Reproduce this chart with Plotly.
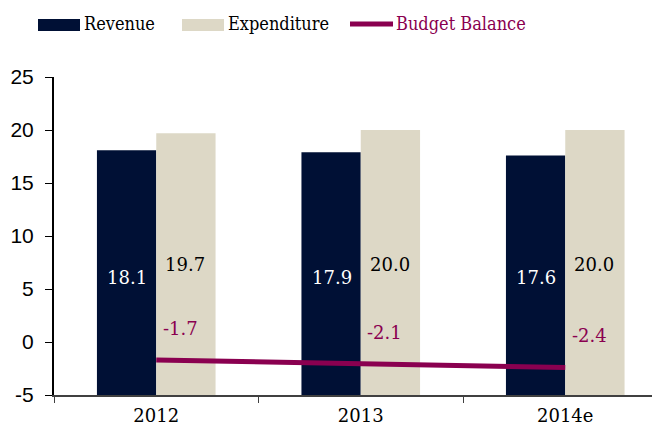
import plotly.graph_objects as go

categories = ["2012", "2013", "2014e"]
revenue = [18.1, 17.9, 17.6]
expenditure = [19.7, 20.0, 20.0]
balance = [-1.7, -2.1, -2.4]
y_ticks = [-5, 0, 5, 10, 15, 20, 25]
y_tick_labels = ["-5", "0", "5", "10", "15", "20", "25"]
y_min, y_max = -5, 25

NAVY = "#001035"
BEIGE = "#DDD8C6"
MAROON = "#8A0050"
SERIF = "DejaVu Serif"
COND = "DejaVu Serif Condensed, DejaVu Serif"

# page body has an 8px offset; compensate in margins
OFF = 8
L, T, R, B = 54 - OFF, 77 - OFF, OFF, 433 - 395 + OFF
PW, PH = 660 - L - R, 433 - T - B

fig = go.Figure()
# bars rise from the bottom of the axis (-5)
fig.add_trace(go.Bar(x=categories, y=[v - y_min for v in revenue], base=y_min, name="Revenue",
                     marker_color=NAVY, marker_line_width=0, showlegend=False))
fig.add_trace(go.Bar(x=categories, y=[v - y_min for v in expenditure], base=y_min, name="Expenditure",
                     marker_color=BEIGE, marker_line_width=0, showlegend=False))
fig.add_trace(go.Scatter(x=categories, y=balance, name="Budget Balance", mode="lines",
                         line=dict(color=MAROON, width=5), showlegend=False))

ann = []
for i, (r, e, b) in enumerate(zip(revenue, expenditure, balance)):
    ann.append(dict(x=i, y=6.1, text=f"{r:.1f}", showarrow=False, xshift=-29,
                    font=dict(family=SERIF, size=18, color="white")))
    ann.append(dict(x=i, y=7.3, text=f"{e:.1f}", showarrow=False, xshift=29,
                    font=dict(family=SERIF, size=18, color="black")))
    ann.append(dict(x=i, y=b + 3.0, text=f"{b:.1f}", showarrow=False, xshift=24,
                    font=dict(family=SERIF, size=18, color=MAROON)))

# custom legend (screen px -> paper coords)
def px(x):
    return (x - OFF - L) / PW

def py(y):
    return 1 - (y - OFF - T) / PH

legend_items = [("Revenue", NAVY, "rect", 38), ("Expenditure", BEIGE, "rect", 182),
                ("Budget Balance", MAROON, "line", 350)]
shapes = []
for name, col, kind, x0 in legend_items:
    if kind == "rect":
        shapes.append(dict(type="rect", xref="paper", yref="paper",
                           x0=px(x0), x1=px(x0 + 42), y0=py(31), y1=py(19),
                           fillcolor=col, line_width=0))
    else:
        shapes.append(dict(type="line", xref="paper", yref="paper",
                           x0=px(x0), x1=px(x0 + 43), y0=py(24), y1=py(24),
                           line=dict(color=col, width=5)))
    ann.append(dict(xref="paper", yref="paper", x=px(x0 + 44), y=py(23),
                    xanchor="left", yanchor="middle", text=name, showarrow=False,
                    font=dict(family=COND, size=18, color=MAROON if kind == "line" else "black")))

fig.update_layout(
    width=660, height=433,
    margin=dict(l=L, r=R, t=T, b=B),
    plot_bgcolor="white", paper_bgcolor="white",
    barmode="group", bargap=0.42, bargroupgap=0,
    annotations=ann, shapes=shapes,
    xaxis=dict(type="category", range=[-0.5, -0.5 + PW / 204.5], showline=True,
               linecolor="#404040", linewidth=2, automargin=False,
               ticks="outside", tickson="boundaries", ticklen=6, tickcolor="#404040",
               ticklabelstandoff=3,
               tickfont=dict(family=SERIF, size=18, color="black"), showgrid=False),
    yaxis=dict(range=[y_min, y_max], tickvals=y_ticks, ticktext=y_tick_labels,
               showline=True, linecolor="black", linewidth=2,
               ticks="outside", ticklen=7, tickcolor="black", showgrid=False, zeroline=False,
               automargin=False, ticklabelstandoff=7,
               tickfont=dict(family="Liberation Sans", size=21, color="black")),
)
fig.write_html("out.html")
